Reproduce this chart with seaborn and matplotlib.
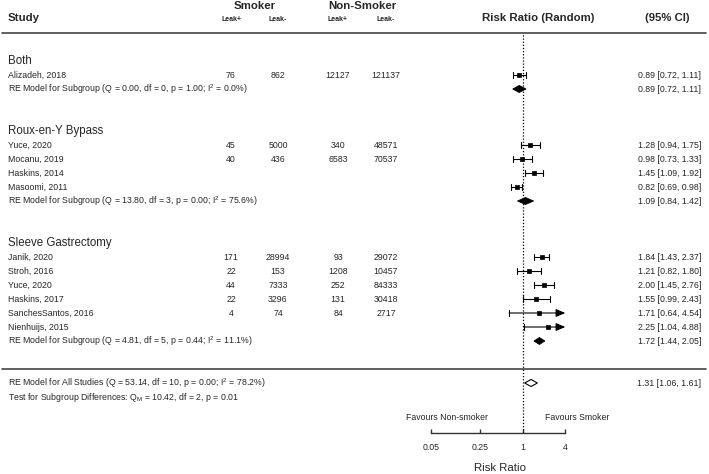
import numpy as np
import pandas as pd
import seaborn as sns
import matplotlib.pyplot as plt

sns.set_theme(style="white")
plt.rcParams['font.family'] = ['Liberation Sans', 'DejaVu Sans']
plt.rcParams['mathtext.fontset'] = 'custom'
plt.rcParams['mathtext.rm'] = 'Liberation Sans'
plt.rcParams['mathtext.it'] = 'Liberation Sans'

# study rows
studies = ["Alizadeh, 2018",
           "Yuce, 2020", "Mocanu, 2019", "Haskins, 2014", "Masoomi, 2011",
           "Janik, 2020", "Stroh, 2016", "Yuce, 2020", "Haskins, 2017",
           "SanchesSantos, 2016", "Nienhuijs, 2015"]
rows = [23, 18, 17, 16, 15, 10, 9, 8, 7, 6, 5]
smk_pos = ["76", "45", "40", "", "", "171", "22", "44", "22", "4", ""]
smk_neg = ["862", "5000", "436", "", "", "28994", "153", "7333", "3296", "74", ""]
non_pos = ["12127", "340", "6583", "", "", "93", "1208", "252", "131", "84", ""]
non_neg = ["121137", "48571", "70537", "", "", "29072", "10457", "84333", "30418", "2717", ""]
rr = [0.89, 1.28, 0.98, 1.45, 0.82, 1.84, 1.21, 2.00, 1.55, 1.71, 2.25]
lo = [0.72, 0.94, 0.73, 1.09, 0.69, 1.43, 0.82, 1.45, 0.99, 0.64, 1.04]
hi = [1.11, 1.75, 1.33, 1.92, 0.98, 2.37, 1.80, 2.76, 2.43, 4.54, 4.88]

# subgroups
groups = ["Both", "Roux-en-Y Bypass", "Sleeve Gastrectomy"]
group_rows = [24, 19, 11]
sub_rows = [22, 14, 4]
sub_rr = [0.89, 1.09, 1.72]
sub_lo = [0.72, 0.84, 1.44]
sub_hi = [1.11, 1.42, 2.05]
sub_text = ["RE Model for Subgroup (Q = 0.00, df = 0, p = 1.00; I$^2$ = 0.0%)",
            "RE Model for Subgroup (Q = 13.80, df = 3, p = 0.00; I$^2$ = 75.6%)",
            "RE Model for Subgroup (Q = 4.81, df = 5, p = 0.44; I$^2$ = 11.1%)"]

# overall
all_row = 1
all_rr, all_lo, all_hi = 1.31, 1.06, 1.61
all_text = "RE Model for All Studies (Q = 53.14, df = 10, p = 0.00; I$^2$ = 78.2%)"
test_text = "Test for Subgroup Differences: Q$_\\mathrm{M}$ = 10.42, df = 2, p = 0.01"

ticks = [0.05, 0.25, 1, 4]
tick_labels = ["0.05", "0.25", "1", "4"]
alim = (0.05, 4)

df = pd.DataFrame({"study": studies, "row": rows, "rr": rr, "lo": lo, "hi": hi})

W, H = 709, 474
fig = plt.figure(figsize=(W / 100, H / 100), dpi=100)
ylim = ((397 - H) / 14, 397 / 14)

# text layer in pixel x, row y
axt = fig.add_axes([0, 0, 1, 1])
axt.set_xlim(0, W)
axt.set_ylim(*ylim)
axt.axis("off")

# forest layer on log scale
x0, x1 = 431, 565.3
ax = fig.add_axes([x0 / W, 0, (x1 - x0) / W, 1])
ax.patch.set_alpha(0)
ax.set_xscale("log")
ax.set_xlim(*alim)
ax.set_ylim(*ylim)

# headers
hs = 8.2
axt.text(8, 27.04, "Study", fontsize=hs, weight="bold", va="center")
axt.text(255, 27.93, "Smoker", fontsize=hs, weight="bold", va="center", ha="center")
axt.text(362, 27.93, "Non-Smoker", fontsize=hs, weight="bold", va="center", ha="center")
for xc, lab in zip([231, 278, 338, 386], ["Leak+", "Leak-", "Leak+", "Leak-"]):
    axt.text(xc, 27.0, lab, fontsize=5, weight="bold", va="center", ha="center")
axt.text(538, 27.04, "Risk Ratio (Random)", fontsize=hs, weight="bold", va="center", ha="center")
axt.text(667, 27.04, "(95% CI)", fontsize=hs, weight="bold", va="center", ha="center")

# horizontal rules
axt.plot([2, 706], [26.0, 26.0], color="#444444", lw=1.2)
axt.plot([2, 706], [2.0, 2.0], color="#444444", lw=1.2)

fs = 6.3
for g, r in zip(groups, group_rows):
    axt.text(8, r, g, fontsize=8.3, va="center")

for i in range(len(studies)):
    r = rows[i]
    axt.text(8, r, studies[i], fontsize=fs, va="center")
    for xc, v in zip([231, 278, 338, 386], [smk_pos[i], smk_neg[i], non_pos[i], non_neg[i]]):
        axt.text(xc, r, v, fontsize=fs, va="center", ha="center")
    axt.text(701, r, f"{rr[i]:.2f} [{lo[i]:.2f}, {hi[i]:.2f}]", fontsize=fs, va="center", ha="right")

for r, t, e, l, h in zip(sub_rows, sub_text, sub_rr, sub_lo, sub_hi):
    axt.text(8, r, t, fontsize=fs, va="center")
    axt.text(701, r, f"{e:.2f} [{l:.2f}, {h:.2f}]", fontsize=fs, va="center", ha="right")

axt.text(8, all_row, all_text, fontsize=fs, va="center")
axt.text(8, 0, test_text, fontsize=fs, va="center")
axt.text(701, all_row, f"{all_rr:.2f} [{all_lo:.2f}, {all_hi:.2f}]", fontsize=fs, va="center", ha="right")

# reference line
axis_row = (397 - 433) / 14
ax.plot([1, 1], [axis_row, 26.0], color="black", lw=0.9, ls=(0, (1, 1.5)))

# confidence intervals
cap = 0.18
for _, d in df.iterrows():
    r = d["row"]
    left = max(d["lo"], alim[0])
    if d["hi"] > alim[1]:
        ax.annotate("", xy=(alim[1], r), xytext=(left, r),
                    arrowprops=dict(arrowstyle="-|>,head_length=0.4,head_width=0.17",
                                    mutation_scale=14, lw=0.8, color="black",
                                    shrinkA=0, shrinkB=0))
        ax.plot([left, left], [r - cap, r + cap], color="black", lw=0.8)
    else:
        ax.plot([left, d["hi"]], [r, r], color="black", lw=0.8)
        ax.plot([left, left], [r - cap, r + cap], color="black", lw=0.8)
        ax.plot([d["hi"], d["hi"]], [r - cap, r + cap], color="black", lw=0.8)

sns.scatterplot(data=df, x="rr", y="row", marker="s", s=11, color="black",
                edgecolor="black", linewidth=0.5, ax=ax, legend=False, zorder=3)

# diamonds
dh = 0.25
for r, e, l, h in zip(sub_rows, sub_rr, sub_lo, sub_hi):
    ax.fill([l, e, h, e], [r, r + dh, r, r - dh], color="black", lw=0.6)
ax.fill([all_lo, all_rr, all_hi, all_rr], [all_row, all_row + dh, all_row, all_row - dh],
        facecolor="white", edgecolor="black", lw=0.8)

# axis
for s in ["left", "right", "top"]:
    ax.spines[s].set_visible(False)
ax.spines["bottom"].set_position(("data", axis_row))
ax.spines["bottom"].set_bounds(*alim)
ax.spines["bottom"].set_color("#333333")
ax.spines["bottom"].set_linewidth(1.0)
ax.set_xticks(ticks)
ax.set_xticklabels(tick_labels)
ax.minorticks_off()
ax.tick_params(axis="x", direction="in", length=3.2, width=1.0, color="#333333",
               labelsize=6.3, pad=7.5, bottom=True)
ax.set_yticks([])
ax.set_xlabel("")
ax.set_ylabel("")

axt.text(488, -1.5, "Favours Non-smoker", fontsize=fs, va="center", ha="right")
axt.text(545, -1.5, "Favours Smoker", fontsize=fs, va="center", ha="left")
axt.text(500, (397 - 468) / 14, "Risk Ratio", fontsize=8.2, va="center", ha="center")

fig.savefig("out.png", dpi=100)
